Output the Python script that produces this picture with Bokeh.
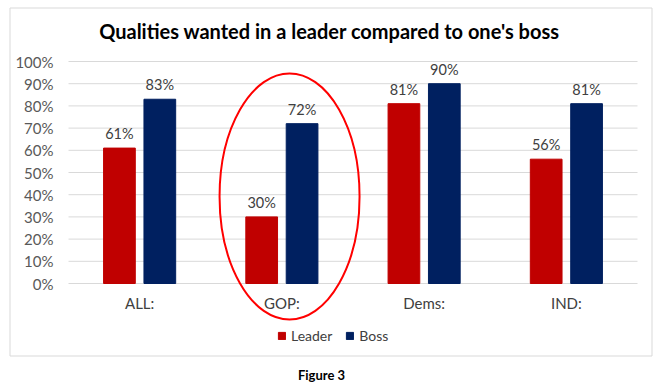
from bokeh.plotting import figure
from bokeh.models import ColumnDataSource, LabelSet, Legend, LegendItem, Range1d
from bokeh.transform import dodge
from bokeh.core.properties import value
from bokeh.embed import file_html
from bokeh.resources import INLINE

categories = ["ALL:", "GOP:", "Dems:", "IND:"]
leader = [61, 30, 81, 56]
boss = [83, 72, 90, 81]
y_ticks = [0, 10, 20, 30, 40, 50, 60, 70, 80, 90, 100]
tick_labels = [f"{t}%" for t in y_ticks]
title_text = "Qualities wanted in a leader compared to one's boss"
caption_text = "Figure 3"

FONT = "Lato"
RED = "#C00000"
NAVY = "#002060"

# canvas geometry (pixels) -> data scale
WIDTH, HEIGHT = 653, 383
X0, SLOT = 68.0, 142.25        # left edge of first category slot, slot width (px)
Y0, PXU = 283.0, 2.22          # pixel row of 0%, pixels per percentage point


def px2x(px):
    return (px - X0) / SLOT


def px2y(py):
    return (Y0 - py) / PXU


p = figure(width=WIDTH, height=HEIGHT,
           x_range=Range1d(px2x(0), px2x(WIDTH)), y_range=Range1d(px2y(HEIGHT), px2y(0)),
           output_backend="svg", toolbar_location=None,
           x_axis_location=None, y_axis_location=None,
           min_border=0, min_border_left=0, min_border_right=0,
           min_border_top=0, min_border_bottom=0)
p.outline_line_color = None
p.background_fill_color = "white"
p.border_fill_color = "white"
p.grid.visible = False

xpos = [i + 0.5 for i in range(len(categories))]
src = ColumnDataSource(dict(
    x=xpos, cat=categories, leader=leader, boss=boss,
    leader_lbl=[f"{v}%" for v in leader], boss_lbl=[f"{v}%" for v in boss],
))

# chart-area border
p.quad(left=px2x(9.5), right=px2x(651.5), top=px2y(7.5), bottom=px2y(355.5),
       fill_color=None, line_color="#d9d9d9", line_width=1)

# horizontal gridlines across the category slots
p.segment(x0=[0] * len(y_ticks), x1=[len(categories)] * len(y_ticks), y0=y_ticks, y1=y_ticks,
          line_color="#d9d9d9", line_width=1)

# y tick labels
p.text(x=[px2x(53)] * len(y_ticks), y=y_ticks, text=tick_labels, text_align="right",
       text_baseline="middle", text_font=value(FONT), text_font_size="15px",
       text_color="#595959")

# category labels
p.text(x=xpos, y=[px2y(302.5)] * len(categories), text=categories, text_align="center",
       text_baseline="middle", text_font=value(FONT), text_font_size="15px",
       text_color="#404040")

OFF, BW = 0.142, 0.223
r1 = p.vbar(x=dodge("x", -OFF), top="leader", width=BW, source=src, color=RED)
r2 = p.vbar(x=dodge("x", OFF), top="boss", width=BW, source=src, color=NAVY)

for col, lbl, off in (("leader", "leader_lbl", -OFF), ("boss", "boss_lbl", OFF)):
    p.add_layout(LabelSet(x=dodge("x", off), y=col, text=lbl, source=src,
                          y_offset=6, text_align="center", text_baseline="bottom",
                          text_font=value(FONT), text_font_size="14.5px", text_color="#404040"))

# title and caption
p.text(x=[px2x(329)], y=[px2y(30.5)], text=[title_text], text_align="center",
       text_baseline="middle", text_font=value(FONT), text_font_size="20px",
       text_font_style="bold", text_color="black")
p.text(x=[px2x(321)], y=[px2y(374.5)], text=[caption_text], text_align="center",
       text_baseline="middle", text_font=value(FONT), text_font_size="13px",
       text_font_style="bold", text_color="black")

# highlight ellipse around GOP
gi = categories.index("GOP:")
p.ellipse(x=[xpos[gi] + 0.054], y=[px2y(196)], width=[140 / SLOT], height=[246 / PXU],
          fill_color=None, line_color="#ff0000", line_width=2)

legend = Legend(items=[LegendItem(label="Leader", renderers=[r1]),
                       LegendItem(label="Boss", renderers=[r2])],
                orientation="horizontal", location=(277, HEIGHT - 344),
                glyph_width=9, glyph_height=9, label_height=14, label_standoff=5,
                spacing=13, padding=0, margin=0, border_line_color=None,
                background_fill_alpha=0, label_text_font=FONT,
                label_text_font_size="14px", label_text_color="#404040")
p.add_layout(legend, "center")

open("out.html", "w").write(file_html(p, INLINE))
